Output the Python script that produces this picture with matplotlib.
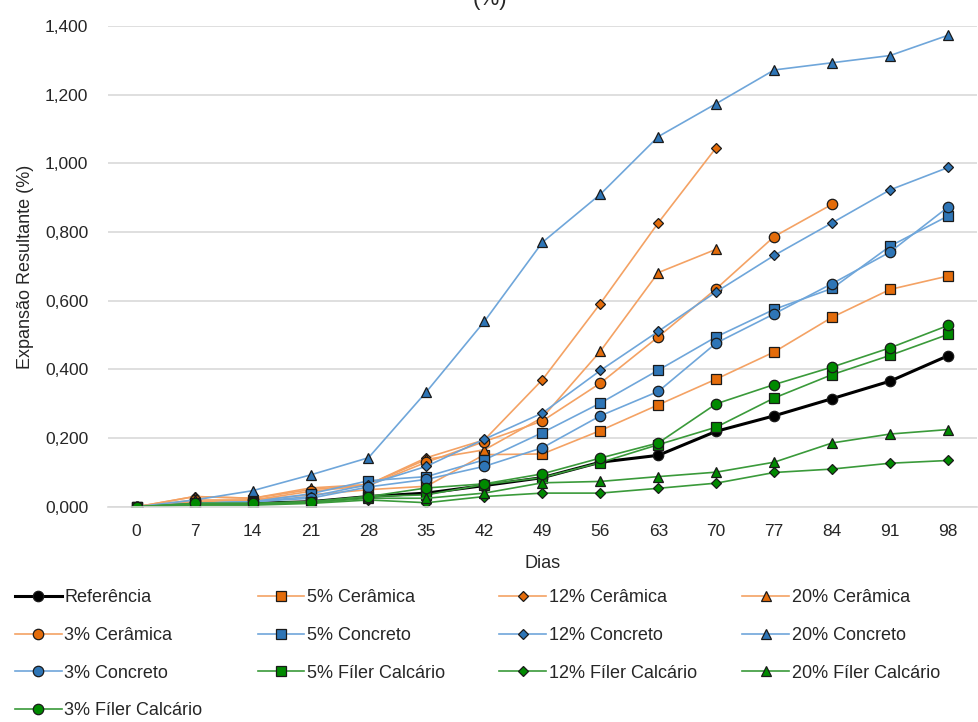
import numpy as np
import matplotlib
matplotlib.use("Agg")
import matplotlib.pyplot as plt
from matplotlib.ticker import FuncFormatter

plt.rcParams['font.family'] = ['Liberation Sans', 'DejaVu Sans']

dias = [0, 7, 14, 21, 28, 35, 42, 49, 56, 63, 70, 77, 84, 91, 98]
nan = np.nan

referencia = [0, 0.010, 0.010, 0.015, 0.030, 0.040, 0.062, 0.085, 0.130, 0.150, 0.220, 0.265, 0.315, 0.366, 0.440]
cer_5 = [0, 0.015, 0.020, 0.035, 0.050, 0.060, 0.152, 0.154, 0.222, 0.297, 0.372, 0.451, 0.552, 0.633, 0.672]
cer_12 = [0, 0.030, 0.025, 0.050, 0.065, 0.143, 0.195, 0.370, 0.592, 0.827, 1.046, nan, nan, nan, nan]
cer_20 = [0, 0.030, 0.025, 0.055, 0.065, 0.138, 0.166, 0.260, 0.453, 0.682, 0.750, nan, nan, nan, nan]
cer_3 = [0, 0.020, 0.020, 0.045, 0.062, 0.130, 0.190, 0.250, 0.360, 0.495, 0.635, 0.787, 0.881, nan, nan]
conc_5 = [0, 0.010, 0.015, 0.038, 0.076, 0.088, 0.137, 0.216, 0.302, 0.398, 0.495, 0.575, 0.636, 0.759, 0.847]
conc_12 = [0, 0.010, 0.015, 0.030, 0.065, 0.118, 0.197, 0.273, 0.397, 0.511, 0.626, 0.732, 0.827, 0.923, 0.988]
conc_20 = [0, 0.020, 0.047, 0.093, 0.143, 0.335, 0.540, 0.770, 0.910, 1.078, 1.174, 1.272, 1.293, 1.314, 1.373]
conc_3 = [0, 0.010, 0.015, 0.025, 0.058, 0.080, 0.118, 0.172, 0.265, 0.336, 0.477, 0.562, 0.650, 0.742, 0.873]
fil_5 = [0, 0.010, 0.010, 0.015, 0.030, 0.035, 0.065, 0.085, 0.129, 0.181, 0.232, 0.317, 0.385, 0.441, 0.502]
fil_12 = [0, 0.005, 0.005, 0.010, 0.020, 0.012, 0.030, 0.040, 0.040, 0.054, 0.069, 0.100, 0.110, 0.127, 0.135]
fil_20 = [0, 0.008, 0.008, 0.012, 0.025, 0.025, 0.040, 0.070, 0.074, 0.088, 0.101, 0.130, 0.186, 0.212, 0.225]
fil_3 = [0, 0.010, 0.010, 0.015, 0.030, 0.055, 0.067, 0.096, 0.142, 0.186, 0.300, 0.356, 0.407, 0.463, 0.528]

# (label, values, line colour, marker fill, marker)
orange_line, orange_mk = '#F4A264', '#E46C0A'
blue_line, blue_mk = '#6FA6DA', '#2E75B6'
green_line, green_mk = '#3A9A3A', '#008A00'

series = [
    ('Referência', referencia, 'black', 'black', 'o'),
    ('5% Cerâmica', cer_5, orange_line, orange_mk, 's'),
    ('12% Cerâmica', cer_12, orange_line, orange_mk, 'D'),
    ('20% Cerâmica', cer_20, orange_line, orange_mk, '^'),
    ('3% Cerâmica', cer_3, orange_line, orange_mk, 'o'),
    ('5% Concreto', conc_5, blue_line, blue_mk, 's'),
    ('12% Concreto', conc_12, blue_line, blue_mk, 'D'),
    ('20% Concreto', conc_20, blue_line, blue_mk, '^'),
    ('3% Concreto', conc_3, blue_line, blue_mk, 'o'),
    ('5% Fíler Calcário', fil_5, green_line, green_mk, 's'),
    ('12% Fíler Calcário', fil_12, green_line, green_mk, 'D'),
    ('20% Fíler Calcário', fil_20, green_line, green_mk, '^'),
    ('3% Fíler Calcário', fil_3, green_line, green_mk, 'o'),
]

fig = plt.figure(figsize=(9.79, 7.22), dpi=100)
ax = fig.add_axes([0.110, 0.298, 0.888, 0.666])

x = np.arange(len(dias))
handles = []
for label, vals, lc, mc, mk in series:
    ms = {'s': 7, 'D': 5.5, '^': 7, 'o': 7.5}[mk]
    lw = 2.2 if label == 'Referência' else 1.2
    h, = ax.plot(x, vals, color=lc, lw=lw, marker=mk, markersize=ms,
                 markerfacecolor=mc, markeredgecolor='#1a1a1a', markeredgewidth=0.9,
                 label=label)
    handles.append(h)

ax.set_xlim(-0.5, len(dias) - 0.5)
ax.set_ylim(0, 1.4)
ax.set_yticks(np.arange(0, 1.41, 0.2))
ax.yaxis.set_major_formatter(FuncFormatter(lambda v, p: f"{v:.3f}".replace('.', ',')))
ax.set_xticks(x)
ax.set_xticklabels([str(d) for d in dias])
ax.grid(axis='y', color='#d9d9d9', lw=1.2)
ax.set_axisbelow(True)
for s in ['top', 'right', 'left']:
    ax.spines[s].set_visible(False)
ax.spines['bottom'].set_color('#d9d9d9')
ax.spines['bottom'].set_linewidth(1.2)
ax.tick_params(axis='x', length=0, labelsize=12.5, colors='#262626', pad=12)
ax.tick_params(axis='y', length=0, labelsize=12.5, colors='#262626', pad=14)
ax.set_xlabel('Dias', fontsize=13, color='#262626', labelpad=12)
ax.set_ylabel('Expansão Resultante (%)', fontsize=13, color='#262626', labelpad=8)

# title cut at the top of the picture
fig.text(0.5, 0.986, '(%)', ha='center', va='bottom', fontsize=16, color='#262626')

# legend laid out row by row, one legend per column to keep even spacing
col_x = [0.004, 0.252, 0.499, 0.747]
for c in range(4):
    idx = list(range(c, len(series), 4))
    leg = fig.legend([handles[i] for i in idx], [series[i][0] for i in idx],
                     loc='upper left', bbox_to_anchor=(col_x[c], 0.199), ncol=1,
                     frameon=False, fontsize=13, handlelength=2.6, handletextpad=0.15,
                     labelspacing=1.15, borderaxespad=0.2)
    for t in leg.get_texts():
        t.set_color('#262626')

fig.savefig('out.png', dpi=100)
